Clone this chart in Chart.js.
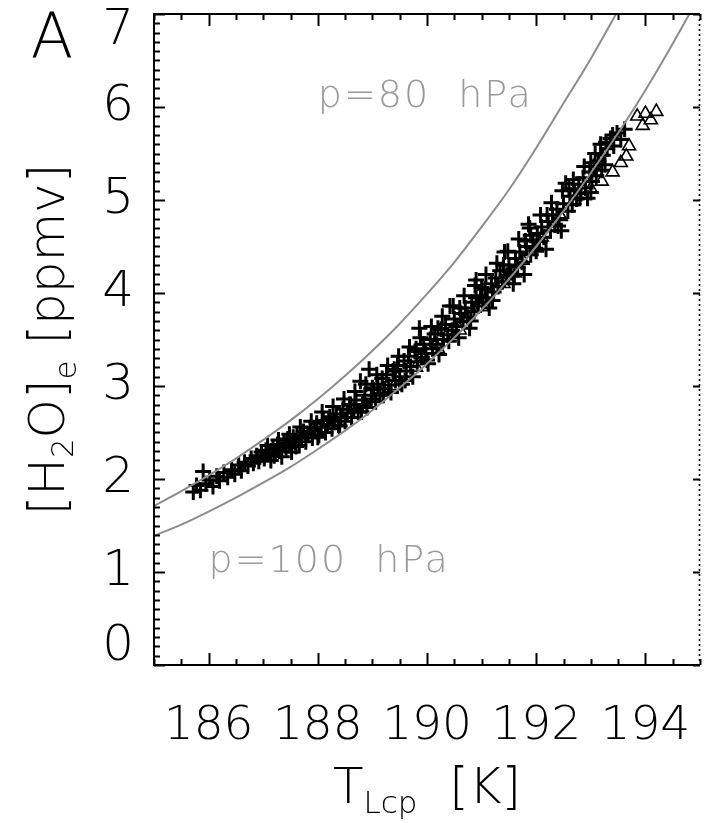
<!DOCTYPE html>
<html>
<head>
<meta charset="utf-8">
<title>[H2O]e vs TLcp</title>
<script src="https://cdn.jsdelivr.net/npm/chart.js@4.4.1/dist/chart.umd.min.js"></script>
<style>
  html, body { margin: 0; padding: 0; background: #fff; }
  #wrap { position: relative; width: 711px; height: 823px; }
</style>
</head>
<body>
<div id="wrap"><canvas id="chart"></canvas></div>
<script>
const X_MIN = 185;
const X_MAX = 195;
const Y_MIN = 0;
const Y_MAX = 7;
const X_MINOR_STEP = 0.5;
const Y_MINOR_STEP = 0.1;
const xTickLabels = [186, 188, 190, 192, 194];

// saturation curves
const curve80T = [185, 185.5, 186, 186.5, 187, 187.5, 188, 188.5, 189, 189.5, 190, 190.5, 191, 191.5, 192, 192.5, 193, 193.5, 193.7];
const curve80V = [1.71, 1.87, 2.04, 2.22, 2.42, 2.63, 2.86, 3.11, 3.38, 3.67, 3.99, 4.33, 4.71, 5.11, 5.56, 6.04, 6.52, 7.04, 7.25];
const curve100T = [185, 185.5, 186, 186.5, 187, 187.5, 188, 188.5, 189, 189.5, 190, 190.5, 191, 191.5, 192, 192.5, 193, 193.5, 194, 194.5, 194.9];
const curve100V = [1.39, 1.51, 1.65, 1.80, 1.96, 2.13, 2.32, 2.52, 2.74, 2.98, 3.24, 3.52, 3.82, 4.15, 4.50, 4.88, 5.29, 5.72, 6.18, 6.68, 7.10];

// "+" observations
const plusT = [
  185.72, 185.78, 185.85, 185.9, 185.95, 186.02, 186.08, 186.15, 186.2, 186.28, 186.35, 186.42, 186.48, 186.55, 186.6, 186.66,
  186.72, 186.78, 186.82, 186.88, 186.92, 186.97, 187.02, 187.05, 187.1, 187.14, 187.18, 187.22, 187.26, 187.3, 187.34, 187.38, 187.42, 187.45, 187.48, 187.52, 187.55, 187.58,
  187.62, 187.66, 187.7, 187.74, 187.78, 187.82, 187.86, 187.9, 187.94, 187.98, 188.02, 188.06, 188.1, 188.14, 188.18, 188.22, 188.26, 188.3, 188.34, 188.38, 188.42, 188.46, 188.5, 188.54, 188.58,
  188.62, 188.66, 188.7, 188.74, 188.78, 188.82, 188.86, 188.9, 188.94, 188.98, 189.02, 189.06, 189.1, 189.14, 189.18, 189.22, 189.26, 189.3, 189.34, 189.38, 189.42, 189.46, 189.5, 189.54, 189.58,
  189.62, 189.66, 189.7, 189.74, 189.78, 189.82, 189.86, 189.9, 189.94, 189.98, 190.02, 190.06, 190.1, 190.14, 190.18, 190.22, 190.26, 190.3, 190.34, 190.38, 190.42, 190.46, 190.5, 190.54, 190.58,
  190.62, 190.66, 190.7, 190.74, 190.78, 190.82, 190.86, 190.9, 190.94, 190.98, 191.02, 191.06, 191.1, 191.14, 191.18, 191.22, 191.26, 191.3, 191.34, 191.38, 191.42, 191.46, 191.5, 191.54, 191.58,
  191.62, 191.66, 191.7, 191.74, 191.78, 191.82, 191.86, 191.9, 191.94, 191.98, 192.02, 192.06, 192.1, 192.14, 192.18, 192.22, 192.26, 192.3, 192.34, 192.38, 192.42, 192.46, 192.5, 192.54, 192.58,
  192.62, 192.66, 192.7, 192.74, 192.78, 192.82, 192.86, 192.9, 192.94, 192.98, 193.0, 193.02, 193.06, 193.1, 193.14, 193.18, 193.22, 193.26, 193.3, 193.36, 193.42, 193.48, 193.55, 193.62,
  187.08, 187.28, 187.48, 187.68, 187.88, 188.08, 188.28, 188.48, 188.68, 188.88, 189.08, 189.28, 189.48, 189.68, 189.88, 190.08,
  190.28, 190.48, 190.68, 190.88, 191.08, 191.28, 191.48, 191.68, 191.88, 192.08, 192.28, 192.48, 192.68, 192.88, 193.08, 193.28,
  187.2, 187.6, 188.0, 188.4, 188.8, 189.2, 189.6, 190.0, 190.4, 190.8, 191.2, 191.6, 192.0, 192.4, 192.8, 193.2,
  188.2, 188.6, 189.0, 189.4, 189.8, 190.2, 190.6, 191.0, 191.4, 191.8, 192.2, 192.6, 193.0, 193.4, 190.9, 191.9
];
const plusV = [
  1.86, 1.93, 1.88, 2.08, 1.95, 1.99, 1.92, 2.03, 1.98, 2.07, 2.02, 2.10, 2.05, 2.15, 2.09, 2.18,
  2.14, 2.22, 2.17, 2.25, 2.19, 2.29, 2.22, 2.31, 2.26, 2.20, 2.33, 2.28, 2.37, 2.30, 2.24, 2.39, 2.34, 2.43, 2.36, 2.29, 2.45, 2.40,
  2.47, 2.36, 2.44, 2.51, 2.40, 2.48, 2.55, 2.44, 2.52, 2.60, 2.47, 2.56, 2.63, 2.50, 2.59, 2.67, 2.54, 2.62, 2.70, 2.58, 2.66, 2.75, 2.62, 2.71, 2.80,
  2.66, 2.75, 2.85, 2.72, 3.05, 2.80, 2.90, 2.77, 3.18, 2.86, 2.96, 2.83, 3.02, 2.92, 3.08, 2.97, 3.12, 3.01, 2.93, 3.16, 3.06, 3.22, 3.10, 3.02, 3.27,
  3.16, 3.32, 3.21, 3.10, 3.37, 3.26, 3.62, 3.31, 3.45, 3.35, 3.24, 3.50, 3.40, 3.56, 3.45, 3.34, 3.61, 3.50, 3.66, 3.55, 3.86, 3.60, 3.72, 3.64, 3.52,
  3.78, 3.69, 3.84, 3.74, 3.62, 3.90, 3.80, 4.14, 3.86, 3.97, 3.90, 4.04, 3.95, 3.84, 4.10, 4.01, 4.16, 4.07, 4.24, 4.12, 4.44, 4.19, 4.30, 4.22, 4.10,
  4.37, 4.28, 4.44, 4.33, 4.20, 4.50, 4.74, 4.41, 4.57, 4.48, 4.64, 4.55, 4.71, 4.60, 4.47, 4.77, 4.67, 4.84, 4.73, 4.90, 4.80, 4.67, 4.96, 5.18, 4.88,
  5.04, 4.95, 5.10, 5.01, 5.17, 5.07, 5.24, 5.13, 5.02, 5.30, 5.08, 5.20, 5.36, 5.26, 5.42, 5.60, 5.48, 5.38, 5.55, 5.66, 5.58, 5.72, 5.65, 5.76,
  2.36, 2.42, 2.48, 2.56, 2.62, 2.72, 2.78, 2.86, 2.94, 3.02, 3.12, 3.22, 3.32, 3.42, 3.52, 3.64,
  3.75, 3.86, 3.97, 4.08, 4.20, 4.32, 4.45, 4.58, 4.70, 4.84, 4.97, 5.10, 5.22, 5.36, 5.50, 5.62,
  2.25, 2.35, 2.45, 2.57, 2.72, 2.90, 3.06, 3.28, 3.48, 3.70, 3.92, 4.18, 4.45, 4.72, 5.02, 5.32,
  2.64, 2.80, 2.98, 3.18, 3.40, 3.62, 3.84, 4.06, 4.30, 4.56, 4.84, 5.12, 5.40, 5.70, 3.95, 4.62
];

// triangle observations
const triT = [194.2, 194.0, 193.85, 194.1, 193.95, 193.7, 193.65, 193.55, 193.4, 193.2, 193.0, 192.7, 192.45, 192.1, 191.75, 191.4, 191.0, 190.6, 190.2, 189.8, 189.4];
const triV = [5.95, 5.93, 5.90, 5.86, 5.80, 5.58, 5.47, 5.40, 5.30, 5.20, 5.12, 5.00, 4.82, 4.60, 4.35, 4.10, 3.85, 3.60, 3.40, 3.20, 3.00];

const curveLabels = [
  { text: "p=80  hPa", t: 188.0, v: 6.0 },
  { text: "p=100  hPa", t: 186.0, v: 1.0 },
];

const FONT = "'DejaVu Sans', sans-serif";
const LIGHT = "200";

function toPoints(xs, ys) {
  return xs.map((x, i) => ({ x, y: ys[i] }));
}

// IDL-style box: inward ticks, dotted right axis
const framePlugin = {
  id: "frame",
  afterDraw(chart) {
    const { ctx, chartArea: a, scales } = chart;
    const x = scales.x;
    const y = scales.y;
    ctx.save();
    ctx.strokeStyle = "#000";
    ctx.lineWidth = 2;
    ctx.beginPath();
    ctx.moveTo(a.right, a.top);
    ctx.lineTo(a.left, a.top);
    ctx.lineTo(a.left, a.bottom);
    ctx.lineTo(a.right, a.bottom);
    ctx.stroke();

    ctx.beginPath();
    for (let v = X_MIN; v <= X_MAX + 1e-6; v += X_MINOR_STEP) {
      const px = Math.round(x.getPixelForValue(v)) + 0.5;
      const major = Math.abs(v - Math.round(v)) < 1e-6 && Math.round(v) % 2 === 0;
      const len = major ? 12 : 6;
      ctx.moveTo(px, a.bottom);
      ctx.lineTo(px, a.bottom - len);
      ctx.moveTo(px, a.top);
      ctx.lineTo(px, a.top + len);
    }
    for (let i = 0; i <= Math.round((Y_MAX - Y_MIN) / Y_MINOR_STEP); i++) {
      const v = Y_MIN + i * Y_MINOR_STEP;
      const py = Math.round(y.getPixelForValue(v)) + 0.5;
      const major = i % 10 === 0;
      ctx.moveTo(a.left, py);
      ctx.lineTo(a.left + (major ? 11 : 6), py);
      if (major) {
        ctx.moveTo(a.right, py);
        ctx.lineTo(a.right - 7, py);
      }
    }
    ctx.stroke();

    ctx.setLineDash([2, 3]);
    ctx.lineWidth = 1.6;
    ctx.beginPath();
    ctx.moveTo(a.right - 0.5, a.top);
    ctx.lineTo(a.right - 0.5, a.bottom);
    ctx.stroke();
    ctx.setLineDash([]);

    // curve annotations
    ctx.fillStyle = "#9a9a9a";
    ctx.font = `${LIGHT} 38px ${FONT}`;
    ctx.letterSpacing = "2px";
    ctx.textBaseline = "alphabetic";
    ctx.textAlign = "left";
    curveLabels.forEach((l) => {
      ctx.fillText(l.text, x.getPixelForValue(l.t), y.getPixelForValue(l.v));
    });
    ctx.letterSpacing = "0px";

    // panel letter
    ctx.fillStyle = "#000";
    ctx.font = `${LIGHT} 62px ${FONT}`;
    ctx.textAlign = "center";
    ctx.fillText("A", 52, 57);

    // titles with subscripts
    const big = `${LIGHT} 50px ${FONT}`;
    const small = `${LIGHT} 31px ${FONT}`;
    const drawRun = (parts, cx, baseY) => {
      ctx.textAlign = "left";
      let total = 0;
      parts.forEach((p) => { ctx.font = p.sub ? small : big; total += ctx.measureText(p.t).width; });
      let cur = cx - total / 2;
      parts.forEach((p) => {
        ctx.font = p.sub ? small : big;
        ctx.fillText(p.t, cur, baseY + (p.sub ? p.sub : 0));
        cur += ctx.measureText(p.t).width;
      });
    };
    const midX = (a.left + a.right) / 2;
    drawRun([{ t: "T" }, { t: "Lcp", sub: 10 }, { t: "  [K]" }], midX, 803);

    ctx.save();
    ctx.translate(64, (a.top + a.bottom) / 2);
    ctx.rotate(-Math.PI / 2);
    drawRun([{ t: "[H" }, { t: "2", sub: 9 }, { t: "O]" }, { t: "e", sub: 12 }, { t: " [ppmv]" }], 0, 0);
    ctx.restore();

    ctx.restore();
  },
};

new Chart(document.getElementById("chart"), {
  type: "scatter",
  data: {
    datasets: [
      {
        label: "p=80 hPa",
        data: toPoints(curve80T, curve80V),
        showLine: true,
        borderColor: "#8c8c8c",
        borderWidth: 2,
        pointRadius: 0,
        cubicInterpolationMode: "monotone",
        order: 0,
      },
      {
        label: "p=100 hPa",
        data: toPoints(curve100T, curve100V),
        showLine: true,
        borderColor: "#8c8c8c",
        borderWidth: 2,
        pointRadius: 0,
        cubicInterpolationMode: "monotone",
        order: 0,
      },
      {
        label: "plus",
        data: toPoints(plusT, plusV),
        pointStyle: "cross",
        pointRadius: 8,
        borderColor: "#000",
        borderWidth: 3,
        order: 2,
      },
      {
        label: "triangle",
        data: toPoints(triT, triV),
        pointStyle: "triangle",
        pointRadius: 7.5,
        borderColor: "#000",
        backgroundColor: "rgba(0,0,0,0)",
        borderWidth: 1.6,
        order: 1,
      },
    ],
  },
  options: {
    responsive: true,
    maintainAspectRatio: false,
    animation: false,
    events: [],
    layout: { padding: { left: 0, top: 14, right: 1, bottom: 0 } },
    plugins: {
      legend: { display: false },
      tooltip: { enabled: false },
    },
    scales: {
      x: {
        type: "linear",
        min: X_MIN,
        max: X_MAX,
        border: { display: false },
        grid: { display: false, drawTicks: false },
        afterBuildTicks(scale) {
          scale.ticks = xTickLabels.map((value) => ({ value }));
        },
        afterFit(scale) {
          scale.height = 158;
          scale.paddingLeft = 0;
          scale.paddingRight = 0;
        },
        ticks: {
          color: "#000",
          padding: 38,
          maxRotation: 0,
          autoSkip: false,
          font: { family: FONT, size: 47, weight: LIGHT, lineHeight: 1 },
          callback(value) {
            return String(value);
          },
        },
      },
      y: {
        type: "linear",
        min: Y_MIN,
        max: Y_MAX,
        border: { display: false },
        grid: { display: false, drawTicks: false },
        afterFit(scale) {
          scale.width = 154;
          scale.paddingTop = 0;
          scale.paddingBottom = 0;
        },
        ticks: {
          stepSize: 1,
          color: "#000",
          padding: 20,
          font: { family: FONT, size: 50, weight: LIGHT, lineHeight: 0.7 },
          callback(value) {
            // keep end labels inside the frame
            if (value === Y_MAX) return ["", String(value)];
            if (value === Y_MIN) return [String(value), ""];
            return String(value);
          },
        },
      },
    },
  },
  plugins: [framePlugin],
});
</script>
</body>
</html>
